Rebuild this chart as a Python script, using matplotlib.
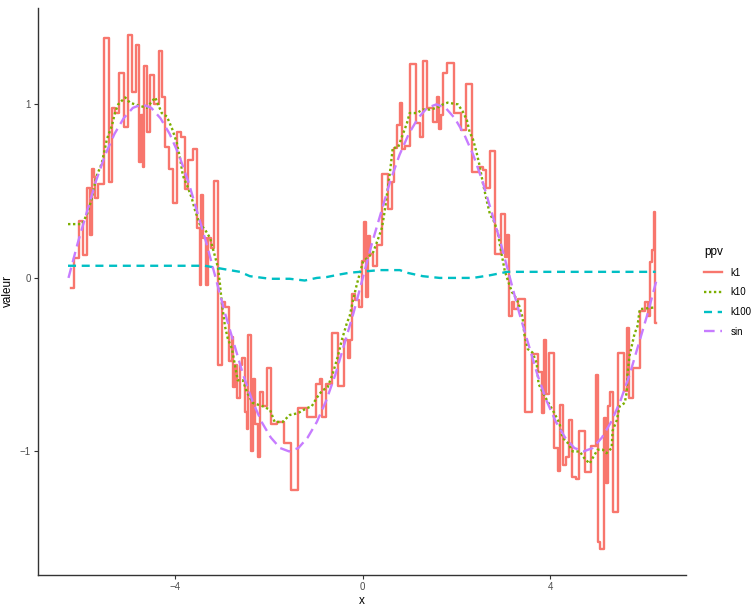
import numpy as np
import matplotlib
matplotlib.use("Agg")
import matplotlib.pyplot as plt

plt.rcParams['font.family'] = ['Liberation Sans', 'DejaVu Sans']

# k1 : plus proche voisin (fonction en escalier)
k1_x = [-6.23, -6.11, -6.01, -5.93, -5.85, -5.80, -5.77, -5.72, -5.69, -5.60,
        -5.46, -5.37, -5.32, -5.26, -5.15, -5.04, -4.96, -4.87, -4.80, -4.74,
        -4.71, -4.68, -4.64, -4.58, -4.50, -4.39, -4.31, -4.24, -4.19, -4.10,
        -4.01, -3.91, -3.83, -3.77, -3.69, -3.57, -3.50, -3.46, -3.43, -3.38,
        -3.33, -3.27, -3.21, -3.13, -3.05, -2.97, -2.90, -2.81, -2.77, -2.75,
        -2.70, -2.65, -2.61, -2.53, -2.49, -2.46, -2.42, -2.37, -2.32, -2.27,
        -2.22, -2.17, -2.10, -1.99, -1.91, -1.77, -1.59, -1.46, -1.29, -1.07,
        -0.94, -0.90, -0.85, -0.72, -0.59, -0.45, -0.35, -0.30, -0.25, -0.20,
        -0.12, -0.03, 0.01, 0.06, 0.09, 0.13, 0.18, 0.25, 0.35, 0.49,
        0.59, 0.64, 0.69, 0.76, 0.81, 0.86, 0.94, 1.07, 1.20, 1.26,
        1.31, 1.44, 1.56, 1.61, 1.66, 1.68, 1.74, 1.87, 2.04, 2.14,
        2.25, 2.41, 2.53, 2.60, 2.67, 2.75, 2.89, 3.00, 3.05, 3.09,
        3.14, 3.21, 3.26, 3.37, 3.54, 3.69, 3.80, 3.85, 3.89, 3.92,
        4.02, 4.13, 4.19, 4.24, 4.30, 4.36, 4.43, 4.51, 4.57, 4.67,
        4.81, 4.94, 5.00, 5.03, 5.11, 5.18, 5.21, 5.25, 5.30, 5.39,
        5.52, 5.61, 5.65, 5.71, 5.83, 5.98, 6.07, 6.11, 6.16, 6.20,
        6.23, 6.25]
k1_y = [-0.06, 0.115, 0.33, 0.13, 0.52, 0.25, 0.63, 0.58, 0.46, 0.54,
        1.38, 0.55, 0.98, 0.95, 1.18, 0.87, 1.40, 1.07, 1.34, 0.67,
        0.94, 0.64, 1.22, 0.84, 1.17, 1.00, 1.31, 1.04, 0.755, 0.63,
        0.43, 0.84, 0.81, 0.51, 0.68, 0.74, 0.29, -0.04, 0.48, 0.23,
        -0.04, 0.23, 0.17, 0.56, -0.50, -0.14, -0.17, -0.48, -0.34, -0.63,
        -0.50, -0.69, -0.50, -0.46, -0.77, -0.87, -0.33, -1.00, -0.58, -0.84,
        -1.03, -0.66, -0.74, -0.52, -0.84, -0.83, -0.95, -1.22, -0.75, -0.80,
        -0.61, -0.58, -0.80, -0.61, -0.32, -0.62, -0.36, -0.46, -0.36, -0.09,
        -0.13, -0.17, 0.10, 0.32, -0.11, 0.24, 0.14, 0.07, 0.19, 0.60,
        0.40, 0.55, 0.75, 0.88, 1.01, 0.74, 0.76, 1.23, 0.89, 0.81,
        1.25, 0.98, 0.90, 1.04, 0.86, 0.94, 1.18, 1.24, 0.95, 0.85,
        1.12, 0.61, 0.64, 0.62, 0.52, 0.73, 0.14, 0.37, 0.12, 0.25,
        -0.22, -0.14, -0.18, -0.12, -0.77, -0.44, -0.54, -0.78, -0.36, -0.67,
        -0.43, -0.98, -1.11, -0.73, -1.08, -1.03, -0.82, -1.15, -1.16, -0.88,
        -1.12, -0.97, -0.56, -1.52, -1.56, -0.81, -1.18, -0.74, -0.66, -1.35,
        -0.43, -0.65, -0.29, -0.69, -0.52, -0.19, -0.14, -0.22, 0.09, 0.16,
        0.38, -0.26]

# k10 : moyenne des 10 plus proches voisins
k10_x = [-6.29, -5.99, -5.88, -5.78, -5.69, -5.57, -5.46, -5.35, -5.29, -5.22,
         -5.07, -4.97, -4.86, -4.61, -4.43, -4.29, -4.18, -4.07, -3.97, -3.90,
         -3.84, -3.73, -3.65, -3.58, -3.48, -3.37, -3.26, -3.16, -3.09, -3.05,
         -3.01, -2.94, -2.88, -2.79, -2.73, -2.67, -2.56, -2.47, -2.35, -2.13,
         -1.98, -1.88, -1.71, -1.56, -1.39, -1.19, -1.09, -0.98, -0.87, -0.75,
         -0.64, -0.53, -0.45, -0.34, -0.28, -0.21, -0.13, -0.06, 0.00, 0.11,
         0.21, 0.32, 0.41, 0.47, 0.53, 0.58, 0.64, 0.75, 0.83, 0.94,
         1.00, 1.15, 1.28, 1.43, 1.58, 1.71, 1.81, 2.03, 2.13, 2.22,
         2.28, 2.35, 2.43, 2.49, 2.56, 2.64, 2.71, 2.81, 2.88, 2.96,
         3.03, 3.09, 3.18, 3.28, 3.35, 3.41, 3.45, 3.52, 3.62, 3.71,
         3.75, 3.84, 3.94, 4.09, 4.20, 4.26, 4.37, 4.48, 4.63, 4.73,
         4.84, 4.90, 5.01, 5.12, 5.20, 5.31, 5.33, 5.42, 5.48, 5.59,
         5.63, 5.65, 5.69, 5.80, 5.86, 5.91, 6.23]
k10_y = [0.31, 0.31, 0.37, 0.46, 0.58, 0.66, 0.80, 0.88, 0.95, 1.00,
         1.04, 1.01, 1.00, 0.98, 1.04, 0.95, 0.93, 0.86, 0.78, 0.69,
         0.59, 0.52, 0.46, 0.39, 0.31, 0.28, 0.23, 0.13, 0.06, -0.03,
         -0.14, -0.28, -0.35, -0.41, -0.50, -0.59, -0.59, -0.66, -0.72, -0.74,
         -0.76, -0.83, -0.83, -0.79, -0.78, -0.75, -0.74, -0.69, -0.65, -0.63,
         -0.55, -0.45, -0.36, -0.26, -0.22, -0.13, -0.04, 0.03, 0.09, 0.12,
         0.14, 0.22, 0.29, 0.39, 0.51, 0.61, 0.75, 0.75, 0.81, 0.89,
         0.95, 0.95, 0.97, 0.97, 0.98, 1.00, 1.01, 1.00, 0.96, 0.91,
         0.84, 0.80, 0.72, 0.65, 0.55, 0.45, 0.37, 0.32, 0.26, 0.14,
         0.04, -0.01, -0.08, -0.12, -0.17, -0.23, -0.33, -0.41, -0.43, -0.49,
         -0.61, -0.66, -0.71, -0.78, -0.84, -0.92, -0.95, -1.00, -1.00, -1.04,
         -1.07, -1.04, -0.99, -0.99, -1.01, -0.98, -0.88, -0.82, -0.74, -0.72,
         -0.66, -0.55, -0.45, -0.32, -0.28, -0.18, -0.17]

# k100 : moyenne des 100 plus proches voisins
k100_x = [-6.29, -3.37, -3.16, -2.84, -2.62, -2.41, -1.98, -1.56, -1.24, -0.98,
          -0.77, -0.49, -0.28, -0.06, 0.36, 0.79, 0.94, 1.28, 1.64, 2.35,
          2.71, 2.99, 3.07, 6.25]
k100_y = [0.07, 0.07, 0.06, 0.045, 0.035, 0.01, -0.005, -0.005, -0.015, 0.0,
          0.005, 0.02, 0.03, 0.035, 0.045, 0.045, 0.03, 0.01, 0.0, 0.0,
          0.015, 0.03, 0.035, 0.035]

# courbe sin de référence
sin_x = np.linspace(-6.28, 6.28, 65)
sin_y = [0.00, 0.20, 0.38, 0.56, 0.71, 0.83, 0.92, 0.98, 1.00, 0.98,
         0.92, 0.83, 0.71, 0.56, 0.38, 0.20, 0.00, -0.20, -0.38, -0.56,
         -0.71, -0.83, -0.92, -0.98, -1.00, -0.98, -0.92, -0.83, -0.71, -0.56,
         -0.38, -0.20, 0.00, 0.20, 0.38, 0.56, 0.71, 0.83, 0.92, 0.98,
         1.00, 0.98, 0.92, 0.83, 0.71, 0.56, 0.38, 0.20, 0.00, -0.20,
         -0.38, -0.56, -0.71, -0.83, -0.92, -0.98, -1.00, -0.98, -0.92, -0.83,
         -0.71, -0.56, -0.38, -0.20, 0.00]

fig = plt.figure(figsize=(7.56, 6.07), dpi=100)
ax = fig.add_axes([0.0503, 0.0527, 0.8567, 0.9343])

lw = 1.7
ax.plot(k1_x, k1_y, color='#F8766D', lw=lw, drawstyle='steps-mid', label='k1')
ax.plot(k10_x, k10_y, color='#7CAE00', lw=lw, linestyle=(0, (1.0, 1.1)), label='k10')
ax.plot(k100_x, k100_y, color='#00BFC4', lw=lw, linestyle=(0, (3.4, 2.4)), label='k100')
ax.plot(sin_x, sin_y, color='#C77CFF', lw=lw, linestyle=(0, (4.5, 2.4)), label='sin')

ax.set_xlim(-6.93, 6.89)
ax.set_ylim(-1.712, 1.556)
ax.set_xticks([-4, 0, 4])
ax.set_yticks([-1, 0, 1])

for s in ['top', 'right']:
    ax.spines[s].set_visible(False)
for s in ['left', 'bottom']:
    ax.spines[s].set_color('#333333')
    ax.spines[s].set_linewidth(1.0)
ax.tick_params(colors='#333333', length=3, width=0.8, labelsize=7, labelcolor='#4D4D4D', pad=2)

ax.set_xlabel('x', fontsize=8.5, labelpad=2)
ax.set_ylabel('valeur', fontsize=8.5, labelpad=4)

leg = ax.legend(loc='center left', bbox_to_anchor=(1.015, 0.5), frameon=False,
                title='ppv', fontsize=7, title_fontsize=8.5, handlelength=1.8,
                labelspacing=1.0, handletextpad=0.9)
leg._legend_box.align = 'left'

fig.savefig('out.png', dpi=100, facecolor='white')
